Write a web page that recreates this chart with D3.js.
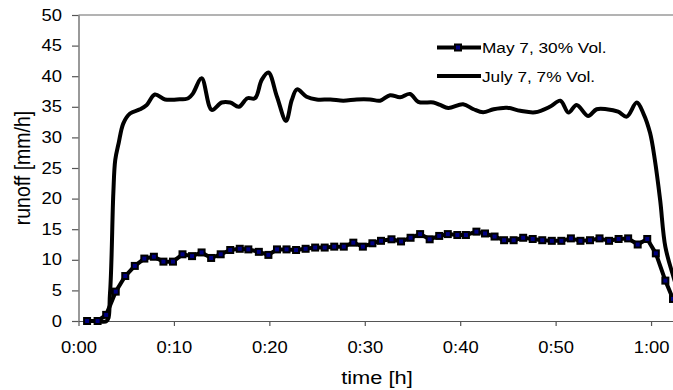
<!DOCTYPE html>
<html><head><meta charset="utf-8">
<script src="https://cdn.jsdelivr.net/npm/d3@7"></script>
<style>
html,body{margin:0;padding:0;background:#fff;overflow:hidden}
text{font-family:"Liberation Sans",Arial,sans-serif;fill:#000}
</style></head>
<body><svg id="c" width="673" height="390"></svg>
<script>
// Data (time in minutes, runoff in mm/h)
const seriesNames = ["May 7, 30% Vol.", "July 7, 7% Vol."];
const mayTime = [0.9,2.0,2.9,3.9,4.9,5.9,6.9,7.9,8.9,9.9,10.9,11.9,12.9,13.9,14.9,15.9,16.9,17.8,18.9,19.9,20.8,21.8,22.8,23.8,24.8,25.8,26.8,27.8,28.8,29.8,30.8,31.7,32.8,33.8,34.8,35.8,36.8,37.8,38.7,39.7,40.6,41.7,42.6,43.6,44.6,45.6,46.6,47.6,48.6,49.6,50.6,51.6,52.6,53.6,54.6,55.6,56.6,57.6,58.6,59.6,60.5,61.5,62.3];
const mayRunoff = [0,0,1,4.8,7.35,9.0,10.2,10.5,9.7,9.7,10.9,10.6,11.2,10.3,10.9,11.6,11.8,11.7,11.3,10.8,11.7,11.7,11.6,11.8,12.0,12.0,12.15,12.15,12.8,12.15,12.7,13.1,13.35,13.0,13.6,14.2,13.35,13.9,14.2,14.05,14.05,14.6,14.3,13.8,13.2,13.2,13.6,13.4,13.2,13.1,13.1,13.5,13.1,13.2,13.5,13.1,13.4,13.5,12.5,13.4,11.05,6.6,3.6];
const julyTime = [0.9,2.0,2.95,3.3,3.65,3.85,4.2,4.7,5.4,6.45,7.15,8.0,9.07,10.3,11.5,12.0,12.9,13.96,15.0,15.9,16.8,17.7,18.5,19.2,19.9,20.8,21.75,22.35,22.9,23.9,24.95,26.4,27.75,29.15,30.55,31.6,32.65,33.7,34.75,35.6,37.2,37.9,38.75,40.3,41.4,42.4,43.5,44.9,46.3,47.85,49.4,50.5,51.35,52.2,53.4,54.3,55.35,56.55,57.45,58.5,59.2,59.9,60.4,60.95,61.5,62.35,62.9];
const julyRunoff = [0,0,0,4.5,20.9,26.3,29,32.3,33.9,34.6,35.3,37.0,36.2,36.2,36.4,37.2,39.65,34.5,35.7,35.7,35.0,36.4,36.4,39.4,40.6,36.65,32.7,36.1,37.85,36.65,36.2,36.2,36.0,36.2,36.2,36.0,36.9,36.55,37.1,35.8,35.7,35.3,34.8,35.4,34.6,34.1,34.6,34.85,34.35,34.1,35.0,36.0,34.05,35.3,33.5,34.6,34.6,34.2,33.4,35.7,33.9,30.7,26.3,19.8,12.1,7.2,4.5];
const xTicks = [0,10,20,30,40,50,60];
const yTicks = [0,5,10,15,20,25,30,35,40,45,50];
const xTitle = "time [h]";
const yTitle = "runoff [mm/h]";

const SX = 1.15; // horizontal text stretch of the original picture
const svg = d3.select("#c");
const x = d3.scaleLinear().domain([0, 62.3]).range([78.5, 673]);
const y = d3.scaleLinear().domain([0, 50]).range([321, 15]);

const fmt = m => `${Math.floor(m/60)}:${String(m%60).padStart(2,"0")}`;

// top border of plot area
svg.append("line").attr("x1", x(0)).attr("x2", 673).attr("y1", y(50)).attr("y2", y(50))
  .attr("stroke", "#9a9a9a").attr("stroke-width", 1.3);

// axes
const gx = svg.append("g").attr("transform", `translate(0,${y(0)})`)
  .call(d3.axisBottom(x).tickValues(xTicks).tickSize(5).tickSizeOuter(0).tickFormat(fmt));
gx.selectAll("text").attr("y", 21).attr("transform", `scale(${SX},1)`)
  .attr("font-size", 16).attr("font-family", '"Liberation Sans",Arial,sans-serif');

const gy = svg.append("g").attr("transform", `translate(${x(0)},0)`)
  .call(d3.axisLeft(y).tickValues(yTicks).tickSize(6.5).tickSizeOuter(0));
gy.selectAll("text").attr("x", -16.5/SX).attr("transform", `scale(${SX},1)`)
  .attr("font-size", 16).attr("font-family", '"Liberation Sans",Arial,sans-serif');

svg.selectAll(".domain, .tick line").attr("stroke", "#555").attr("stroke-width", 1.2);

// axis titles
svg.append("text").attr("transform", `translate(377,384) scale(${SX},1)`)
  .attr("text-anchor", "middle").attr("font-size", 19).text(xTitle);
svg.append("text").attr("transform", `translate(22,168) scale(${SX},1) rotate(-90)`)
  .attr("text-anchor", "middle").attr("dominant-baseline", "central").attr("font-size", 19.5).text(yTitle);

// series
const julyData = julyTime.map((t,i)=>({t, v: julyRunoff[i]}));
const mayData = mayTime.map((t,i)=>({t, v: mayRunoff[i]}));

svg.append("path").datum(julyData)
  .attr("fill","none").attr("stroke","#000").attr("stroke-width",4).attr("stroke-linejoin","round")
  .attr("d", d3.line().x(d=>x(d.t)).y(d=>y(d.v)).curve(d3.curveCatmullRom.alpha(0.5)));

svg.append("path").datum(mayData)
  .attr("fill","none").attr("stroke","#000").attr("stroke-width",4).attr("stroke-linejoin","round")
  .attr("d", d3.line().x(d=>x(d.t)).y(d=>y(d.v)));

const S = 6;
svg.append("g").selectAll("rect").data(mayData).join("rect")
  .attr("x", d=>x(d.t)-S/2).attr("y", d=>y(d.v)-S/2).attr("width",S).attr("height",S)
  .attr("fill","#000080").attr("stroke","#000").attr("stroke-width",2);

// legend
const leg = svg.append("g");
const legY = [47.5, 76];
seriesNames.forEach((name,i)=>{
  leg.append("line").attr("x1",437).attr("x2",481).attr("y1",legY[i]).attr("y2",legY[i])
    .attr("stroke","#000").attr("stroke-width",4);
  if(i===0){
    leg.append("rect").attr("x",458-S/2).attr("y",legY[i]-S/2).attr("width",S).attr("height",S)
      .attr("fill","#000080").attr("stroke","#000").attr("stroke-width",2);
  }
  leg.append("text").attr("transform",`translate(482,${legY[i]+5.5}) scale(${SX},1)`)
    .attr("font-size",15).text(name);
});
</script></body></html>
